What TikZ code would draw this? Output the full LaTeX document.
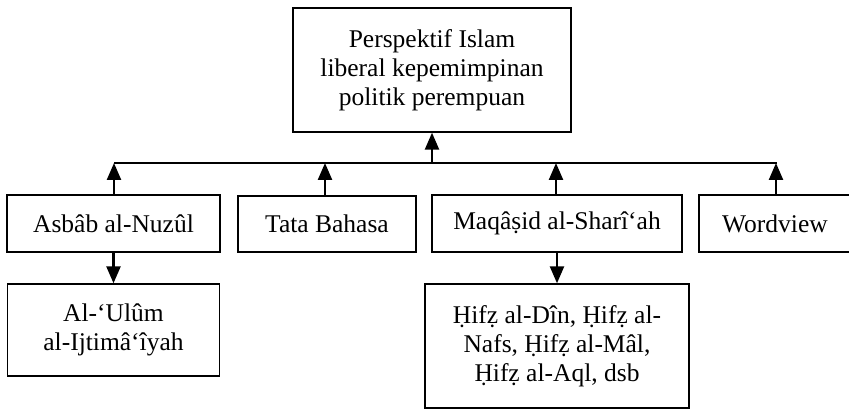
\documentclass[tikz,border=0pt]{standalone}
\usepackage{fontspec}
\setmainfont{Liberation Serif}
\usetikzlibrary{arrows.meta}
\tikzset{
  box/.style={draw, line width=1.4pt, rectangle, inner sep=0pt, align=center,
    font=\fontsize{25.5pt}{29pt}\selectfont},
  arr/.style={line width=2.4pt, -{Triangle[width=14pt,length=17pt]}},
  bus/.style={line width=1.6pt}
}
\begin{document}
\begin{tikzpicture}[x=1pt,y=-1pt]
\useasboundingbox (0,0) rectangle (849,409);
\node[box, minimum width=278pt, minimum height=124pt] (top) at (432,70)
  {Perspektif Islam\\liberal kepemimpinan\\politik perempuan};
\node[box, minimum width=213pt, minimum height=57pt] (asbab) at (113.5,223.5) {Asbâb al-Nuzûl};
\node[box, minimum width=178pt, minimum height=56pt] (tata) at (327,224) {Tata Bahasa};
\node[box, minimum width=250pt, minimum height=57pt] (maqasid) at (557,223.5) {Maqâṣid al-Sharî‘ah};
\node[box, minimum width=152pt, minimum height=57pt] (word) at (775,223.5) {Wordview};
\node[box, minimum width=212pt, minimum height=92pt] (ulum) at (113.5,330) {Al-‘Ulûm\\al-Ijtimâ‘îyah};
\node[box, minimum width=264pt, minimum height=124pt] (hifz) at (557,346)
  {Ḥifẓ al-Dîn, Ḥifẓ al-\\Nafs, Ḥifẓ al-Mâl,\\Ḥifẓ al-Aql, dsb};
\coordinate (busL) at (114,163);
\coordinate (busR) at (777,163);
\draw[bus] (busL) -- (busR);
\draw[arr] (top.south |- busL) -- (top.south);
\draw[arr] (114,195) -- (114,163);
\draw[arr] (325,196) -- (325,163);
\draw[arr] (556,195) -- (556,163);
\draw[arr] (776,195) -- (776,163);
\draw[arr] (asbab.south) -- (ulum.north);
\draw[arr] (maqasid.south) -- (hifz.north);
\end{tikzpicture}
\end{document}
